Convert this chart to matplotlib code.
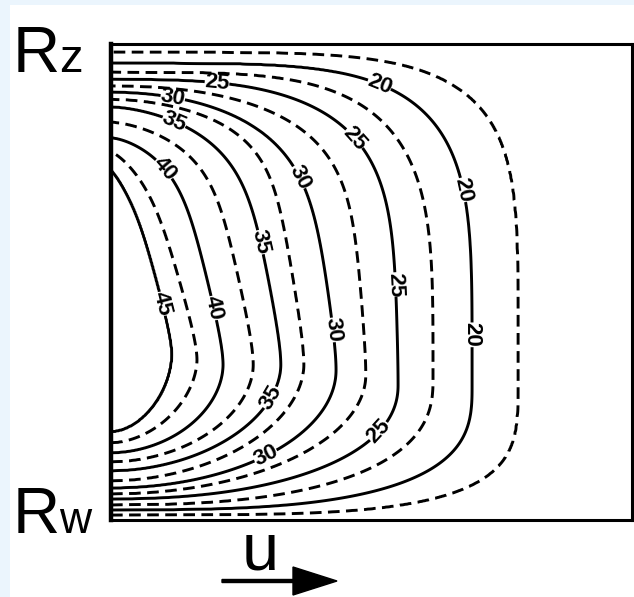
import numpy as np
import matplotlib
matplotlib.use("Agg")
import matplotlib.pyplot as plt
from matplotlib.patches import Rectangle, FancyArrow

plt.rcParams['font.family'] = ['Liberation Sans', 'DejaVu Sans']

# isotherms, the integer ones are solid and labelled
levels = [17.5, 20, 22.5, 25, 27.5, 30, 32.5, 35, 37.5, 40, 42.5, 45]
# height where each isotherm meets the left wall near Rz and near Rw (0 = Rw, 1 = Rz)
y_top = [0.983, 0.960, 0.941, 0.926, 0.912, 0.899, 0.884, 0.868, 0.836, 0.803, 0.773, 0.735]
y_bot = [0.0105, 0.021, 0.0315, 0.044, 0.0546, 0.067, 0.082, 0.103, 0.122, 0.141, 0.162, 0.185]
# widest point of each isotherm
y_peak = [0.305, 0.284, 0.294, 0.284, 0.305, 0.315, 0.326, 0.326, 0.326, 0.326, 0.336, 0.347]
x_peak = [0.781, 0.693, 0.618, 0.551, 0.489, 0.432, 0.370, 0.326, 0.273, 0.215, 0.165, 0.117]
# shape of the upper branch (toward Rz): squareness, wall approach, lean back
p_top = [5, 4.5, 4, 5, 6, 6, 8, 7, 8, 8, 8, 8]
q_top = [5, 4.5, 4, 3, 2.2, 2, 1.8, 1.6, 1.5, 1.5, 1.3, 1.2]
lean = [0, 0, 0, 0.03, 0.09, 0.17, 0.22, 0.28, 0.36, 0.46, 0.65, 0.75]
# squareness of the lower branch (toward Rw)
p_bot = [4, 3, 2.5, 2.2, 2, 2, 1.9, 1.9, 1.9, 1.9, 1.8, 1.8]
edge_T = 16.0
core_T = 47.0

label_pos = [(0.511, 0.903), (0.674, 0.693), (0.685, 0.389),
             (0.203, 0.908), (0.464, 0.798), (0.536, 0.494), (0.511, 0.189),
             (0.117, 0.878), (0.363, 0.721), (0.424, 0.399), (0.296, 0.137),
             (0.119, 0.830), (0.280, 0.582), (0.305, 0.258),
             (0.107, 0.742), (0.196, 0.445),
             (0.084, 0.452)]


def upper(s, p, q):
    s = min(max(s, 0.0), 1.0)
    return (1.0 - s ** p) ** (1.0 / q)


def bend(s, c=0.15):
    # lean grows smoothly from the widest point, linear further up
    s = min(max(s, 0.0), 1.0)
    return s * s / (s + c) * (1 + c)


# build the temperature field row by row from the isotherm outlines
lv = np.array(levels)
nx, ny = 500, 700
xg = np.linspace(0, 1, nx)
yg = np.linspace(0, 1, ny)
wall_y = np.concatenate([[0], y_bot, [(y_bot[-1] + y_top[-1]) / 2], y_top[::-1], [1]])
wall_T = np.concatenate([[edge_T], lv, [core_T], lv[::-1], [edge_T]])

T = np.empty((ny, nx))
for j, y in enumerate(yg):
    tw = np.interp(y, wall_y, wall_T)
    xs, ts = [0.0], [tw]
    for k in range(len(lv) - 1, -1, -1):
        if lv[k] >= tw:
            continue
        if y >= y_peak[k]:
            s = (y - y_peak[k]) / (y_top[k] - y_peak[k])
            xk = x_peak[k] * (1 - lean[k] * bend(s)) * upper(s, p_top[k], q_top[k])
        else:
            s = (y_peak[k] - y) / (y_peak[k] - y_bot[k])
            xk = x_peak[k] * upper(s, p_bot[k], p_bot[k])
        xk = max(xk, xs[-1] + 1e-4)
        xs.append(xk)
        ts.append(lv[k])
    xs.append(max(1.0, xs[-1] + 1e-4))
    ts.append(edge_T)
    T[j] = np.interp(xg, xs, ts)

fig = plt.figure(figsize=(6.34, 5.97), dpi=100, facecolor='#ebf5fd')
fig.patches.append(Rectangle((10 / 634, 0), 1, 1 - 5 / 597, transform=fig.transFigure,
                             facecolor='white', edgecolor='none', zorder=-5))
ax = fig.add_axes([111 / 634, 77 / 597, 521 / 634, 476 / 597])
ax.set_facecolor('white')

solid = [l for l in levels if l % 5 == 0]
dashed = [l for l in levels if l % 5 != 0]
ax.contour(xg, yg, T, levels=dashed, colors='k', linewidths=2.1,
           linestyles=[(0, (4, 2.2))])
cs = ax.contour(xg, yg, T, levels=solid, colors='k', linewidths=2.1, linestyles='solid')
lbls = ax.clabel(cs, manual=label_pos, fmt='%d', fontsize=16, inline=True, inline_spacing=0)
for t in lbls:
    t.set_fontsize(16)
    t.set_fontweight('bold')

ax.set_xlim(0, 1)
ax.set_ylim(0, 1)
ax.set_xticks([])
ax.set_yticks([])
for side in ax.spines:
    ax.spines[side].set_linewidth(2.2)
ax.spines['left'].set_linewidth(3.2)

# wall names and flow direction
fig.text(13 / 634, 1 - 72 / 597, 'R', fontsize=47, va='baseline', ha='left')
fig.text(59 / 634, 1 - 72 / 597, 'z', fontsize=34, va='baseline', ha='left')
fig.text(13 / 634, 1 - 533 / 597, 'R', fontsize=47, va='baseline', ha='left')
fig.text(59 / 634, 1 - 533 / 597, 'w', fontsize=32, va='baseline', ha='left')
fig.text(260 / 634, 1 - 570 / 597, 'u', fontsize=48, va='baseline', ha='center')
fig.add_artist(FancyArrow(2.22, 0.16, 1.15, 0, width=0.03, head_width=0.28,
                          head_length=0.44, length_includes_head=True,
                          color='k', transform=fig.dpi_scale_trans))

fig.savefig('out.png', dpi=100, facecolor=fig.get_facecolor())
